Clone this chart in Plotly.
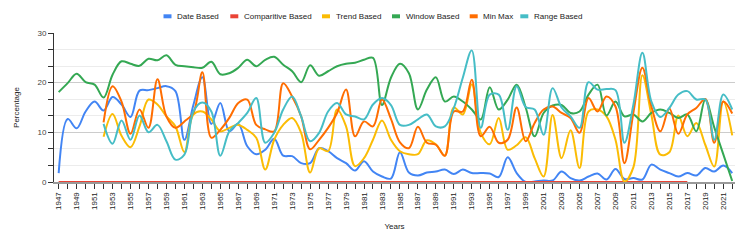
import plotly.graph_objects as go

years = list(range(1947, 2023))
years_from_1952 = list(range(1952, 2023))
years_comparitive = list(range(1947, 2018))

date_based = [1.8, 12.7, 10.8, 14.2, 16.2, 14.4, 17.1, 15.6, 13.1, 18.4,
              18.5, 18.9, 19.3, 18.3, 8.5, 15.5, 21.1, 11.7, 15.9, 10.2,
              11.7, 7.2, 5.6, 6.5, 8.7, 5.3, 5.2, 3.8, 3.8, 6.8,
              6.2, 4.8, 3.8, 2.3, 4.2, 2.1, 1.1, 0.7, 6.0, 1.9,
              1.3, 1.9, 2.1, 2.5, 1.6, 2.5, 1.8, 1.8, 1.7, 1.0,
              5.0, 1.8, 0.0, 0.1, 0.3, 0.3, 2.1, 0.8, 0.3, 1.1,
              1.7, 0.5, 2.6, 0.6, 0.8, 0.5, 3.5, 2.5, 1.8, 1.1,
              1.8, 1.3, 2.8, 2.1, 3.3, 1.8]

comparitive_based = [0.0] * len(years_comparitive)

trend_based = [9.1, 13.7, 9.3, 7.0, 11.2, 16.6, 15.6, 13.2, 11.2, 6.0,
               13.6, 14.2, 12.6, 10.2, 10.9, 11.5, 10.5, 8.9, 2.5, 8.5,
               11.5, 12.9, 9.9, 1.9, 6.8, 6.2, 14.6, 11.2, 3.2, 4.8,
               8.5, 12.4, 8.5, 6.2, 5.6, 5.6, 8.4, 7.6, 5.3, 15.0,
               13.6, 19.7, 9.9, 7.6, 12.9, 6.5, 7.4, 9.0, 4.8, 1.1,
               13.5, 4.8, 10.4, 2.8, 14.2, 14.6, 13.2, 8.5, 0.1, 3.0,
               21.5, 13.5, 5.5, 6.0, 13.4, 9.2, 11.9, 7.5, 3.1, 16.2,
               9.4]

window_based = [18.1, 19.9, 21.8, 20.1, 19.6, 17.0, 21.6, 24.3, 23.8, 23.4,
                24.8, 24.5, 25.5, 23.6, 23.3, 23.1, 23.0, 24.2, 21.7, 21.9,
                23.0, 24.6, 23.3, 24.6, 25.2, 23.6, 22.3, 20.1, 23.5, 21.4,
                22.3, 23.3, 23.8, 24.0, 24.6, 25.0, 15.5, 21.0, 23.8, 21.9,
                14.6, 18.6, 21.1, 16.2, 17.2, 16.2, 14.6, 12.6, 19.1, 14.6,
                16.6, 19.6, 15.0, 9.2, 13.9, 15.4, 15.5, 13.9, 14.2, 17.6,
                19.6, 13.4, 16.2, 13.2, 13.6, 12.2, 13.9, 14.6, 13.9, 12.9,
                13.6, 10.2, 16.6, 11.0, 5.6, 0.2]

min_max = [12.0, 19.3, 16.2, 9.7, 14.6, 10.9, 20.7, 13.2, 10.9, 12.2,
           13.9, 22.1, 8.9, 10.5, 12.9, 15.9, 16.6, 11.5, 10.6, 10.2,
           19.9, 17.2, 13.2, 6.6, 8.5, 10.9, 13.9, 18.6, 9.2, 12.2,
           11.2, 16.6, 12.7, 8.0, 6.8, 11.1, 7.9, 7.5, 5.3, 14.2,
           14.2, 20.6, 9.2, 11.1, 7.9, 8.5, 15.0, 8.2, 11.9, 14.6,
           15.2, 13.9, 12.9, 9.9, 16.9, 14.2, 17.2, 15.2, 3.8, 14.0,
           23.0, 15.2, 10.2, 14.8, 9.7, 13.6, 14.9, 16.7, 7.9, 16.2,
           13.8]

range_based = [11.7, 7.7, 12.4, 8.5, 13.4, 10.0, 11.5, 8.2, 4.5, 5.5,
               14.2, 16.0, 14.2, 5.3, 10.2, 11.9, 13.9, 16.9, 7.9, 9.9,
               14.6, 17.2, 13.2, 8.2, 9.9, 14.2, 15.9, 13.6, 13.2, 12.6,
               15.6, 16.9, 15.5, 11.5, 11.5, 12.6, 13.6, 11.2, 11.2, 14.9,
               21.0, 26.5, 10.9, 17.6, 17.6, 10.5, 19.3, 15.1, 14.6, 9.5,
               18.9, 15.0, 13.2, 10.9, 20.1, 18.6, 18.7, 18.5, 7.9, 15.6,
               26.0, 16.2, 13.1, 14.9, 17.6, 18.3, 16.6, 16.6, 8.5, 17.6,
               14.6]

series_names = ["Date Based", "Comparitive Based", "Trend Based",
                "Window Based", "Min Max", "Range Based"]
series_colors = ["#4285F4", "#EA4335", "#FBBC04", "#34A853", "#FF6D01", "#46BDC6"]
series_x = [years, years_comparitive, years_from_1952, years, years_from_1952, years_from_1952]
series_y = [date_based, comparitive_based, trend_based, window_based, min_max, range_based]

x_tick_years = list(range(1947, 2022, 2))
x_tick_labels = [str(y) for y in x_tick_years]
y_tick_vals = [0, 10, 20, 30]
y_tick_labels = ["0", "10", "20", "30"]

FONT = "Liberation Sans, Arial, sans-serif"

fig = go.Figure()
for name, color, xs, ys in zip(series_names, series_colors, series_x, series_y):
    fig.add_trace(go.Scatter(
        x=xs, y=ys, name=name, mode="lines",
        line=dict(color=color, width=2, shape="spline", smoothing=1.0),
        showlegend=False, hoverinfo="x+y+name"))

# plot area geometry (pixels) for the hand-made legend
W, H = 747, 242
ML, MR, MT, MB = 54, 12, 33, 60
PW, PH = W - ML - MR, H - MT - MB

def px_x(px):
    return (px - ML) / PW

def px_y(py):
    return (H - MB - py) / PH

legend_text_px = [176.5, 243.3, 335.0, 405.0, 482.7, 533.3]
legend_y_px = 16.3
shapes = []
annotations = []
for name, color, tx in zip(series_names, series_colors, legend_text_px):
    shapes.append(dict(type="rect", xref="paper", yref="paper",
                       x0=px_x(tx - 13), x1=px_x(tx - 5),
                       y0=px_y(legend_y_px + 2), y1=px_y(legend_y_px - 2),
                       fillcolor=color, line=dict(width=0)))
    annotations.append(dict(text=name, xref="paper", yref="paper",
                            x=px_x(tx - 1.5), y=px_y(legend_y_px),
                            xanchor="left", yanchor="middle", showarrow=False,
                            font=dict(family=FONT, size=8, color="#222222")))

fig.update_layout(
    template="none",
    width=W, height=H, autosize=False,
    margin=dict(l=ML, r=MR, t=MT, b=MB, pad=0),
    paper_bgcolor="white", plot_bgcolor="white",
    font=dict(family=FONT, size=8, color="#222222"),
    showlegend=False,
    shapes=shapes, annotations=annotations,
    xaxis=dict(
        range=[1946.48, 2022.31],
        tickmode="array", tickvals=x_tick_years, ticktext=x_tick_labels,
        tickangle=-90, ticks="outside", ticklen=5, tickcolor="#333333", tickwidth=1,
        tickfont=dict(family=FONT, size=8, color="#222222"),
        minor=dict(tickmode="array", tickvals=years, ticks="outside", ticklen=5,
                   tickcolor="#333333", tickwidth=1, showgrid=False),
        showgrid=False, zeroline=False,
        showline=True, linecolor="#999999", linewidth=2,
        layer="below traces",
        title=dict(text="Years", font=dict(family=FONT, size=8, color="#222222"), standoff=14),
    ),
    yaxis=dict(
        range=[0, 30],
        tickmode="array", tickvals=y_tick_vals, ticktext=y_tick_labels,
        ticks="outside", ticklen=5, tickcolor="#333333", tickwidth=1,
        tickfont=dict(family=FONT, size=8, color="#444444"),
        minor=dict(dtick=10 / 3, tick0=0, ticks="outside", ticklen=5,
                   tickcolor="#333333", showgrid=True, gridcolor="#ececec", gridwidth=1),
        showgrid=True, gridcolor="#cccccc", gridwidth=1,
        zeroline=False, showline=True, linecolor="#333333", linewidth=1,
        layer="below traces",
        title=dict(text="Percentage", font=dict(family=FONT, size=8, color="#222222"), standoff=16),
    ),
)

fig.write_html("out.html", config={"displayModeBar": False},
               post_script="document.body.style.margin='0';")
